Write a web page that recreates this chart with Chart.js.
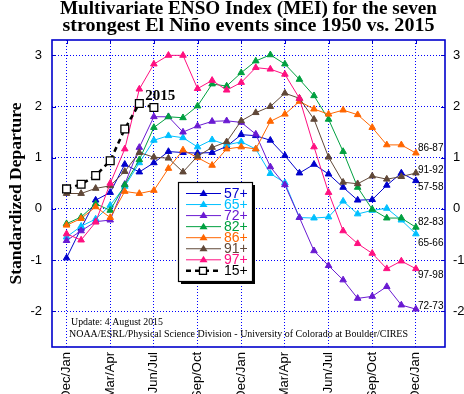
<!DOCTYPE html>
<html lang="en">
<head>
<meta charset="UTF-8">
<title>MEI - strongest El Nino events vs 2015</title>
<script src="https://cdn.jsdelivr.net/npm/chart.js"></script>
<style>
  body { margin: 0; background: #fff; }
  canvas { display: block; }
</style>
</head>
<body>
<canvas id="meiChart" width="464" height="394"></canvas>
<script>
// bimonthly MEI, Dec/Jan of the onset year through Dec/Jan two years later (25 seasons)
const seasonLabels = ['Dec/Jan', 'Mar/Apr', 'Jun/Jul', 'Sep/Oct', 'Dec/Jan', 'Mar/Apr', 'Jun/Jul', 'Sep/Oct', 'Dec/Jan'];
const seasonTicks = [0, 3, 6, 9, 12, 15, 18, 21, 24];
const yTicks = [-2, -1, 0, 1, 2, 3];

const mei57 = [-0.96, -0.38, 0.17, 0.32, 0.87, 0.72, 0.90, 1.12, 1.10, 1.09, 1.10, 1.22, 1.45, 1.43, 1.34, 1.04, 0.70, 0.87, 0.68, 0.42, 0.17, 0.18, 0.46, 0.70, 0.55];
const mei65 = [-0.55, -0.34, -0.20, 0.07, 0.44, 0.90, 1.34, 1.43, 1.39, 1.21, 1.35, 1.25, 1.31, 1.17, 0.69, 0.51, -0.17, -0.18, -0.16, 0.15, -0.10, -0.03, 0.01, -0.22, -0.49];
const mei72 = [-0.62, -0.43, -0.25, -0.22, 0.48, 1.20, 1.80, 1.80, 1.50, 1.62, 1.71, 1.72, 1.69, 1.46, 0.82, 0.47, -0.17, -0.82, -1.11, -1.39, -1.75, -1.71, -1.52, -1.88, -1.96];
const mei82 = [-0.29, -0.16, 0.10, -0.03, 0.47, 0.96, 1.59, 1.80, 1.78, 2.01, 2.44, 2.40, 2.66, 2.89, 3.01, 2.83, 2.53, 2.21, 1.75, 1.12, 0.42, -0.01, -0.18, -0.18, -0.36];
const mei86 = [-0.32, -0.19, 0.04, -0.17, 0.34, 0.30, 0.36, 0.79, 1.15, 1.00, 0.85, 1.17, 1.21, 1.17, 1.71, 1.85, 2.10, 1.95, 1.85, 1.93, 1.84, 1.59, 1.25, 1.25, 1.09];
const mei91 = [0.30, 0.30, 0.40, 0.45, 0.73, 1.10, 1.01, 0.99, 0.72, 1.03, 1.20, 1.31, 1.72, 1.88, 2.00, 2.26, 2.16, 1.75, 1.01, 0.52, 0.49, 0.64, 0.58, 0.63, 0.70];
const mei97 = [-0.49, -0.61, -0.26, 0.50, 1.17, 2.34, 2.83, 3.00, 3.00, 2.35, 2.51, 2.32, 2.47, 2.76, 2.73, 2.63, 2.16, 1.21, 0.32, -0.43, -0.68, -0.87, -1.17, -1.02, -1.17];
const mei2015 = [0.39, 0.48, 0.65, 0.94, 1.56, 2.06, 1.98];

const legendNames = ['57+', '65+', '72+', '82+', '86+', '91+', '97+', '15+'];
const endLabels = ['57-58', '65-66', '72-73', '82-83', '86-87', '91-92', '97-98'];
const endLabelY = [0.43, -0.67, -1.91, -0.26, 1.19, 0.76, -1.29];

const colors = ['#0000cc', '#00c0ff', '#6a1ad2', '#00a040', '#ff6600', '#604838', '#ff1080'];
const gridBlue = '#0000ff';
const frameBlue = '#0000cc';

const series = [mei57, mei65, mei72, mei82, mei86, mei91, mei97];
const datasets = series.map((vals, k) => ({
  label: legendNames[k],
  data: vals.map((v, i) => ({ x: i, y: v })),
  borderColor: colors[k],
  backgroundColor: colors[k],
  borderWidth: 1,
  pointStyle: 'triangle',
  pointRadius: 3.8,
  pointBorderWidth: 1,
  order: 8 - k
}));
datasets.push({
  label: legendNames[7],
  data: mei2015.map((v, i) => ({ x: i, y: v })),
  borderColor: '#000',
  borderWidth: 2.5,
  borderDash: [5, 4],
  pointStyle: 'rect',
  pointRadius: 5.5,
  pointBackgroundColor: '#fff',
  pointBorderColor: '#000',
  pointBorderWidth: 1.3,
  order: 0
});

// draw text squeezed/stretched to the width it has in the original
function fitText(ctx, text, x, y, width) {
  const w = ctx.measureText(text).width;
  ctx.save();
  ctx.translate(x, y);
  ctx.scale(width / w, 1);
  ctx.fillText(text, 0, 0);
  ctx.restore();
}

const overlay = {
  id: 'overlay',
  afterDraw(chart) {
    const ctx = chart.ctx;
    const a = chart.chartArea;
    const xs = chart.scales.x, ys = chart.scales.y;

    // frame + little tick marks
    ctx.save();
    ctx.strokeStyle = frameBlue;
    ctx.lineWidth = 1.6;
    ctx.strokeRect(a.left, a.top, a.right - a.left, a.bottom - a.top);
    ctx.lineWidth = 1;
    ctx.beginPath();
    seasonTicks.forEach(t => {
      const px = Math.round(xs.getPixelForValue(t)) + 0.5;
      ctx.moveTo(px, a.top); ctx.lineTo(px, a.top + 4);
    });
    yTicks.forEach(t => {
      const py = Math.round(ys.getPixelForValue(t)) + 0.5;
      ctx.moveTo(a.left, py); ctx.lineTo(a.left + 4, py);
      ctx.moveTo(a.right, py); ctx.lineTo(a.right - 4, py);
    });
    ctx.stroke();
    ctx.restore();

    // title
    ctx.save();
    ctx.fillStyle = '#000';
    ctx.textAlign = 'center';
    ctx.textBaseline = 'alphabetic';
    ctx.font = 'bold 18px "Liberation Serif"';
    const cx = (a.left + a.right) / 2;
    fitText(ctx, 'Multivariate ENSO Index (MEI) for the seven', cx, 14, 377);
    fitText(ctx, 'strongest El Ni\u00f1o events since 1950 vs. 2015', cx, 30.5, 372);

    // y axis title
    ctx.save();
    ctx.translate(16, (a.top + a.bottom) / 2);
    ctx.rotate(-Math.PI / 2);
    ctx.textBaseline = 'middle';
    ctx.font = 'bold 17.5px "Liberation Serif"';
    ctx.fillText('Standardized Departure', 0, 0);
    ctx.restore();

    // 2015 tag
    ctx.textAlign = 'left';
    ctx.textBaseline = 'middle';
    ctx.font = 'bold 15px "Liberation Serif"';
    ctx.fillText('2015', xs.getPixelForValue(5.4), ys.getPixelForValue(2.2));

    // end-of-series tags
    ctx.font = '10px "Liberation Sans"';
    const tagX = xs.getPixelForValue(24) + 2;
    endLabels.forEach((t, k) => ctx.fillText(t, tagX, ys.getPixelForValue(endLabelY[k])));

    // credits
    ctx.font = '11px "Liberation Serif"';
    fitText(ctx, 'Update: 4 August 2015', 71, 322, 92);
    fitText(ctx, 'NOAA/ESRL/Physical Science Division - University of Colorado at Boulder/CIRES', 69, 334.5, 339);

    // legend box
    const bx = 178, by = 182, bw = 74, bh = 99;
    ctx.fillStyle = '#000';
    ctx.fillRect(bx + 3, by + 3, bw, bh);
    ctx.fillStyle = '#fff';
    ctx.fillRect(bx, by, bw, bh);
    ctx.strokeStyle = '#000';
    ctx.lineWidth = 1.2;
    ctx.strokeRect(bx + 0.5, by + 0.5, bw, bh);
    ctx.font = '14px "Liberation Sans"';
    chart.data.datasets.forEach((ds, k) => {
      const ly = by + 11.5 + k * 11.05;
      ctx.save();
      ctx.strokeStyle = ds.borderColor;
      ctx.lineWidth = ds.borderWidth;
      ctx.setLineDash(ds.borderDash || []);
      ctx.beginPath();
      ctx.moveTo(186, ly); ctx.lineTo(221, ly);
      ctx.stroke();
      ctx.setLineDash([]);
      if (ds.pointStyle === 'rect') {
        ctx.fillStyle = '#fff';
        ctx.fillRect(199.5, ly - 3.5, 7, 7);
        ctx.lineWidth = 1.3;
        ctx.strokeRect(199.5, ly - 3.5, 7, 7);
      } else {
        ctx.fillStyle = ds.borderColor;
        ctx.beginPath();
        ctx.moveTo(203.5, ly - 4); ctx.lineTo(207.5, ly + 2.5); ctx.lineTo(199.5, ly + 2.5);
        ctx.closePath();
        ctx.fill();
      }
      ctx.fillStyle = ds.pointStyle === 'rect' ? '#000' : ds.borderColor;
      ctx.textAlign = 'left';
      ctx.textBaseline = 'middle';
      ctx.fillText(ds.label, 224, ly + 0.5);
      ctx.restore();
    });
    ctx.restore();
  }
};

const tickFont = { family: 'Liberation Sans', size: 13 };

new Chart(document.getElementById('meiChart').getContext('2d'), {
  type: 'line',
  data: { datasets: datasets },
  options: {
    responsive: false,
    animation: false,
    devicePixelRatio: 1,
    layout: { padding: { top: 40, left: 0, right: 0, bottom: 0 } },
    plugins: { legend: { display: false }, tooltip: { enabled: false } },
    elements: { line: { tension: 0 } },
    scales: {
      x: {
        type: 'linear',
        min: -1,
        max: 26,
        afterBuildTicks: s => { s.ticks = seasonTicks.map(v => ({ value: v })); },
        afterFit: s => { s.height = 47; },
        grid: { color: gridBlue, lineWidth: 1, drawTicks: false },
        border: { display: false, dash: [1, 2] },
        ticks: {
          autoSkip: false,
          minRotation: 90,
          maxRotation: 90,
          padding: 5,
          color: '#000',
          font: tickFont,
          callback: v => seasonLabels[seasonTicks.indexOf(v)]
        }
      },
      y: {
        position: 'left',
        min: -2.7,
        max: 3.3,
        afterBuildTicks: s => { s.ticks = yTicks.map(v => ({ value: v })); },
        afterFit: s => { s.width = 52; },
        grid: { color: gridBlue, lineWidth: 1, drawTicks: false },
        border: { display: false, dash: [1, 2] },
        ticks: { padding: 10, color: '#000', font: tickFont }
      },
      y2: {
        position: 'right',
        min: -2.7,
        max: 3.3,
        afterBuildTicks: s => { s.ticks = yTicks.map(v => ({ value: v })); },
        afterFit: s => { s.width = 19; },
        grid: { display: false, drawTicks: false },
        border: { display: false },
        ticks: { padding: 8, color: '#000', font: tickFont }
      }
    }
  },
  plugins: [overlay]
});
</script>
</body>
</html>
